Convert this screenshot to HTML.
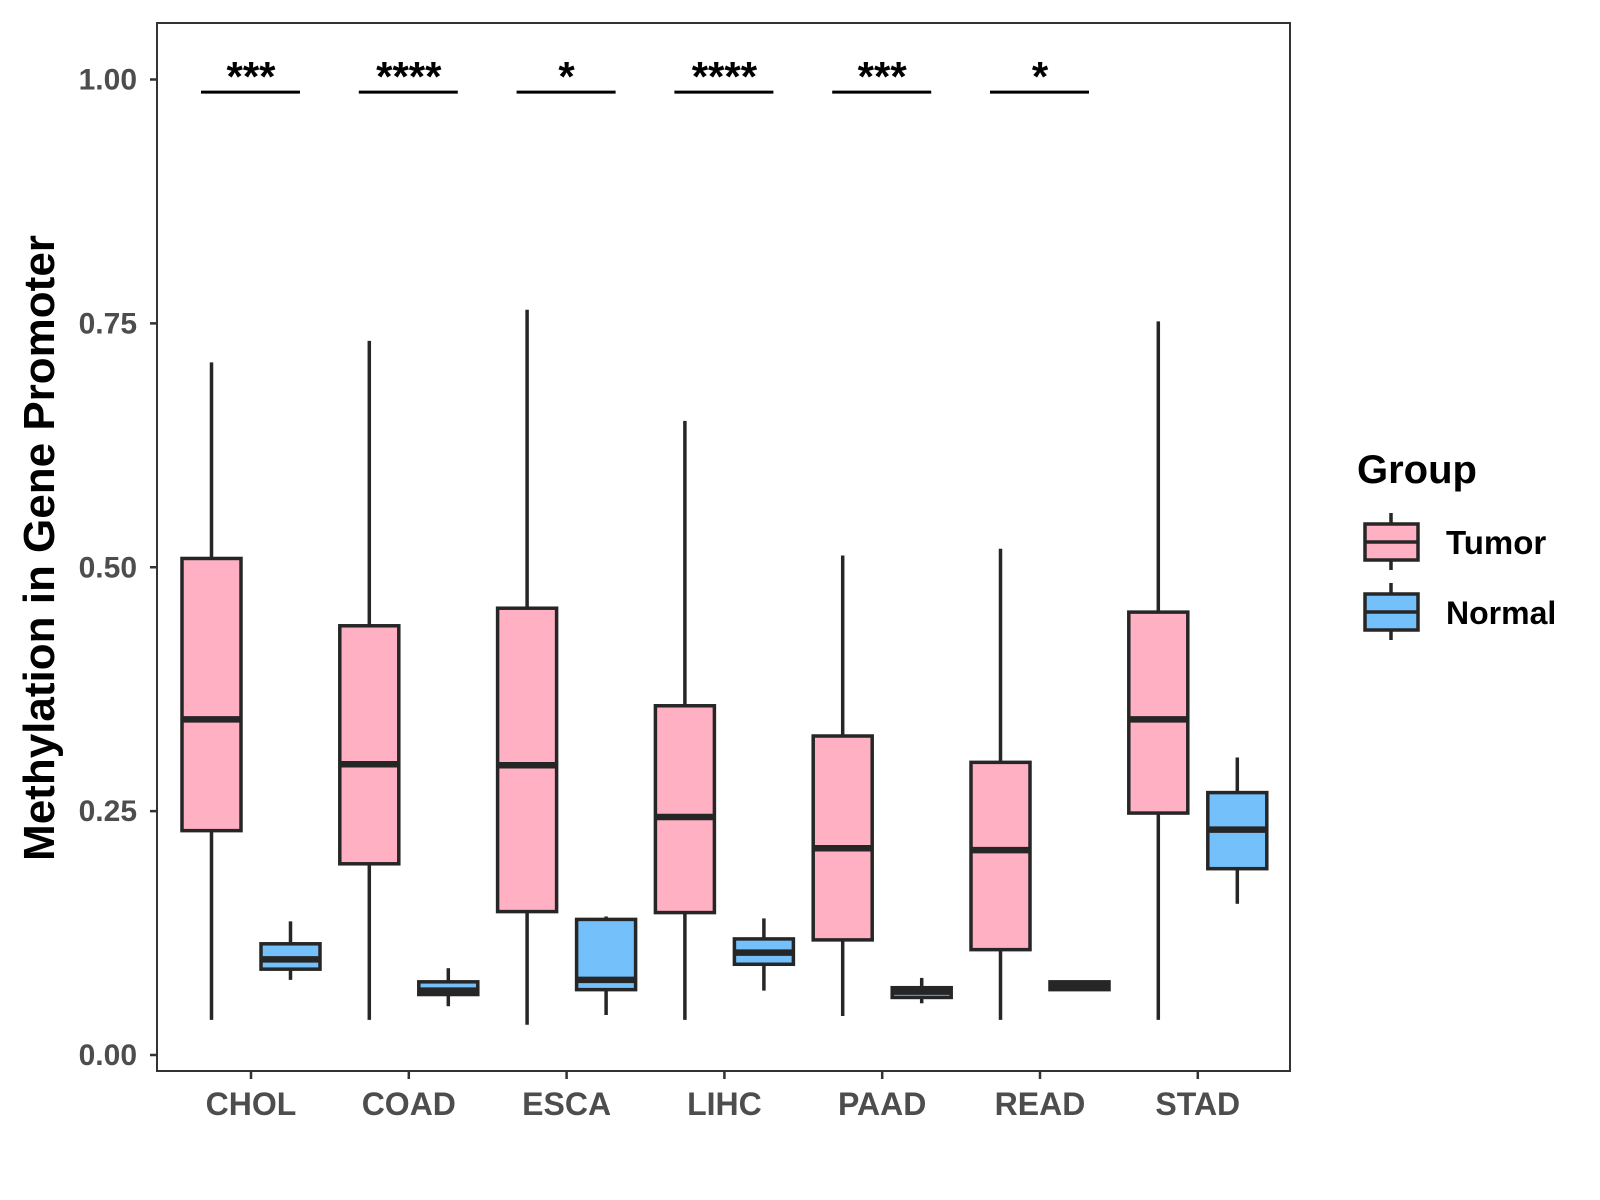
<!DOCTYPE html>
<html><head><meta charset="utf-8"><style>
html,body{margin:0;padding:0;background:#fff}
svg{display:block;font-family:"Liberation Sans",Arial,sans-serif}
</style></head><body>
<svg id="chart" width="1600" height="1200" viewBox="0 0 1600 1200" xmlns="http://www.w3.org/2000/svg">
<rect x="157" y="23" width="1133" height="1048" fill="#fff" stroke="#333" stroke-width="2"/>
<g id="marks"></g>
<text transform="translate(54,548) rotate(-90)" text-anchor="middle" font-size="44" font-weight="bold" fill="#000">Methylation in Gene Promoter</text>
<g>
<text x="1357" y="483" font-size="40" font-weight="bold">Group</text>
<g>
<line x1="1391" y1="513" x2="1391" y2="570" stroke="#262626" stroke-width="3.5"/>
<rect x="1365" y="524" width="53" height="36" fill="#FFB0C2" stroke="#262626" stroke-width="3.5"/>
<line x1="1365" y1="542" x2="1418" y2="542" stroke="#262626" stroke-width="3.5"/>
<text x="1446" y="554" font-size="33" font-weight="bold">Tumor</text></g>
<g>
<line x1="1391" y1="583" x2="1391" y2="640" stroke="#262626" stroke-width="3.5"/>
<rect x="1365" y="594" width="53" height="36" fill="#74C0FA" stroke="#262626" stroke-width="3.5"/>
<line x1="1365" y1="612" x2="1418" y2="612" stroke="#262626" stroke-width="3.5"/>
<text x="1446" y="624" font-size="32" font-weight="bold">Normal</text></g>
</g>
</svg>
<script>
const categories=["CHOL","COAD","ESCA","LIHC","PAAD","READ","STAD"];
const tumorMin=[0.036,0.036,0.031,0.036,0.040,0.036,0.036];
const tumorQ1=[0.230,0.196,0.147,0.146,0.118,0.108,0.248];
const tumorMed=[0.344,0.298,0.297,0.244,0.212,0.210,0.344];
const tumorQ3=[0.509,0.440,0.458,0.358,0.327,0.300,0.454];
const tumorMax=[0.710,0.732,0.764,0.650,0.512,0.519,0.752];
const normalMin=[0.077,0.050,0.041,0.066,0.053,0.066,0.155];
const normalQ1=[0.088,0.062,0.067,0.093,0.059,0.067,0.191];
const normalMed=[0.098,0.066,0.077,0.105,0.065,0.070,0.231];
const normalQ3=[0.114,0.075,0.139,0.119,0.069,0.075,0.269];
const normalMax=[0.137,0.089,0.142,0.140,0.079,0.076,0.305];
const sigLabels=["***","****","*","****","***","*",""];
const sigLevel=[0.987,0.987,0.987,0.987,0.987,0.987,null];
const yTicks=[0,0.25,0.5,0.75,1.0];
const yTickLabels=["0.00","0.25","0.50","0.75","1.00"];

const NS="http://www.w3.org/2000/svg";
const g=document.getElementById('marks');
const y=v=>1055-v*975.5;
const x=i=>251+i*157.8;
const BW=59,OFF=39.5,INK="#262626";
function mk(tag,attrs,parent){const e=document.createElementNS(NS,tag);for(const k in attrs)e.setAttribute(k,attrs[k]);(parent||g).appendChild(e);return e;}

yTicks.forEach((t,i)=>{
  const tk=mk('line',{x1:150,x2:157,y1:y(t),y2:y(t),stroke:"#333","stroke-width":2.5});
  
  
  const lb=mk('text',{x:137,y:y(t)+10,"text-anchor":"end","font-size":30,"font-weight":"bold",fill:"#4d4d4d"});
  lb.textContent=yTickLabels[i];
  
  
});
categories.forEach((c,i)=>{
  const tk=mk('line',{x1:x(i),x2:x(i),y1:1071,y2:1079,stroke:"#333","stroke-width":2.5});
  
  
  const lb=mk('text',{x:x(i),y:1115,"text-anchor":"middle","font-size":32,"font-weight":"bold",fill:"#4d4d4d"});
  lb.textContent=c;
  
  
});
function box(cx,mn,q1,md,q3,mx,fill,name){
  const grp=mk('g',{});
  
  
  mk('line',{x1:cx,x2:cx,y1:y(mx),y2:y(q3),stroke:INK,"stroke-width":3.5},grp);
  mk('line',{x1:cx,x2:cx,y1:y(q1),y2:y(mn),stroke:INK,"stroke-width":3.5},grp);
  mk('rect',{x:cx-BW/2,y:y(q3),width:BW,height:Math.max(y(q1)-y(q3),0.5),fill:fill,stroke:INK,"stroke-width":3.5},grp);
  mk('line',{x1:cx-BW/2,x2:cx+BW/2,y1:y(md),y2:y(md),stroke:INK,"stroke-width":6.5},grp);
}
categories.forEach((c,i)=>{
  box(x(i)-OFF,tumorMin[i],tumorQ1[i],tumorMed[i],tumorQ3[i],tumorMax[i],"#FFB0C2","box-tumor-"+c.toLowerCase());
  box(x(i)+OFF,normalMin[i],normalQ1[i],normalMed[i],normalQ3[i],normalMax[i],"#74C0FA","box-normal-"+c.toLowerCase());
  if(sigLevel[i]!==null){
    const l=mk('line',{x1:x(i)-50,x2:x(i)+49,y1:y(sigLevel[i]),y2:y(sigLevel[i]),stroke:"#000","stroke-width":3});
    
    
    const t=mk('text',{x:x(i),y:y(sigLevel[i])-1,"text-anchor":"middle","font-size":42,"font-weight":"bold",fill:"#000"});
    t.textContent=sigLabels[i];
    
    
  }
});
</script>
</body></html>
